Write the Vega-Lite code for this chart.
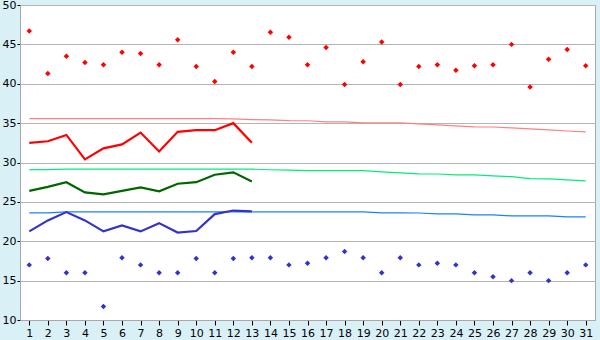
{
  "$schema": "https://vega.github.io/schema/vega-lite/v6.json",
  "width": 575,
  "height": 315,
  "autosize": "none",
  "padding": {"left": 20, "top": 5, "right": 5, "bottom": 20},
  "background": "#d9f0f7",
  "config": {
    "view": {"fill": "white", "stroke": "#a8a8a8", "strokeWidth": 1},
    "axis": {"labelFont": "DejaVu Sans", "labelColor": "black", "domainColor": "#a8a8a8", "tickColor": "black", "gridColor": "#b4b4b4"}
  },
  "datasets": {
    "pts": [
      {"day": 1, "series": "max", "value": 46.7},
      {"day": 2, "series": "max", "value": 41.3},
      {"day": 3, "series": "max", "value": 43.5},
      {"day": 4, "series": "max", "value": 42.7},
      {"day": 5, "series": "max", "value": 42.4},
      {"day": 6, "series": "max", "value": 44.0},
      {"day": 7, "series": "max", "value": 43.85},
      {"day": 8, "series": "max", "value": 42.4},
      {"day": 9, "series": "max", "value": 45.6},
      {"day": 10, "series": "max", "value": 42.2},
      {"day": 11, "series": "max", "value": 40.3},
      {"day": 12, "series": "max", "value": 44.0},
      {"day": 13, "series": "max", "value": 42.2},
      {"day": 14, "series": "max", "value": 46.55},
      {"day": 15, "series": "max", "value": 45.9},
      {"day": 16, "series": "max", "value": 42.4},
      {"day": 17, "series": "max", "value": 44.6},
      {"day": 18, "series": "max", "value": 39.9},
      {"day": 19, "series": "max", "value": 42.8},
      {"day": 20, "series": "max", "value": 45.3},
      {"day": 21, "series": "max", "value": 39.9},
      {"day": 22, "series": "max", "value": 42.2},
      {"day": 23, "series": "max", "value": 42.4},
      {"day": 24, "series": "max", "value": 41.7},
      {"day": 25, "series": "max", "value": 42.3},
      {"day": 26, "series": "max", "value": 42.4},
      {"day": 27, "series": "max", "value": 45.0},
      {"day": 28, "series": "max", "value": 39.6},
      {"day": 29, "series": "max", "value": 43.1},
      {"day": 30, "series": "max", "value": 44.35},
      {"day": 31, "series": "max", "value": 42.3},
      {"day": 1, "series": "min", "value": 17.0},
      {"day": 2, "series": "min", "value": 17.8},
      {"day": 3, "series": "min", "value": 16.0},
      {"day": 4, "series": "min", "value": 16.0},
      {"day": 5, "series": "min", "value": 11.7},
      {"day": 6, "series": "min", "value": 17.9},
      {"day": 7, "series": "min", "value": 17.0},
      {"day": 8, "series": "min", "value": 16.0},
      {"day": 9, "series": "min", "value": 16.0},
      {"day": 10, "series": "min", "value": 17.8},
      {"day": 11, "series": "min", "value": 16.0},
      {"day": 12, "series": "min", "value": 17.8},
      {"day": 13, "series": "min", "value": 17.9},
      {"day": 14, "series": "min", "value": 17.9},
      {"day": 15, "series": "min", "value": 17.0},
      {"day": 16, "series": "min", "value": 17.2},
      {"day": 17, "series": "min", "value": 17.9},
      {"day": 18, "series": "min", "value": 18.7},
      {"day": 19, "series": "min", "value": 17.9},
      {"day": 20, "series": "min", "value": 16.0},
      {"day": 21, "series": "min", "value": 17.9},
      {"day": 22, "series": "min", "value": 17.0},
      {"day": 23, "series": "min", "value": 17.2},
      {"day": 24, "series": "min", "value": 17.0},
      {"day": 25, "series": "min", "value": 16.0},
      {"day": 26, "series": "min", "value": 15.5},
      {"day": 27, "series": "min", "value": 15.0},
      {"day": 28, "series": "min", "value": 16.0},
      {"day": 29, "series": "min", "value": 15.0},
      {"day": 30, "series": "min", "value": 16.0},
      {"day": 31, "series": "min", "value": 17.0}
    ],
    "thick": [
      {"day": 1, "series": "maxLine", "value": 32.5},
      {"day": 2, "series": "maxLine", "value": 32.7},
      {"day": 3, "series": "maxLine", "value": 33.5},
      {"day": 4, "series": "maxLine", "value": 30.4},
      {"day": 5, "series": "maxLine", "value": 31.8},
      {"day": 6, "series": "maxLine", "value": 32.3},
      {"day": 7, "series": "maxLine", "value": 33.8},
      {"day": 8, "series": "maxLine", "value": 31.4},
      {"day": 9, "series": "maxLine", "value": 33.9},
      {"day": 10, "series": "maxLine", "value": 34.1},
      {"day": 11, "series": "maxLine", "value": 34.1},
      {"day": 12, "series": "maxLine", "value": 35.0},
      {"day": 13, "series": "maxLine", "value": 32.5},
      {"day": 1, "series": "avgLine", "value": 26.4},
      {"day": 2, "series": "avgLine", "value": 26.9},
      {"day": 3, "series": "avgLine", "value": 27.5},
      {"day": 4, "series": "avgLine", "value": 26.2},
      {"day": 5, "series": "avgLine", "value": 25.95},
      {"day": 6, "series": "avgLine", "value": 26.4},
      {"day": 7, "series": "avgLine", "value": 26.85},
      {"day": 8, "series": "avgLine", "value": 26.35},
      {"day": 9, "series": "avgLine", "value": 27.3},
      {"day": 10, "series": "avgLine", "value": 27.5},
      {"day": 11, "series": "avgLine", "value": 28.45},
      {"day": 12, "series": "avgLine", "value": 28.75},
      {"day": 13, "series": "avgLine", "value": 27.6},
      {"day": 1, "series": "minLine", "value": 21.25},
      {"day": 2, "series": "minLine", "value": 22.65},
      {"day": 3, "series": "minLine", "value": 23.7},
      {"day": 4, "series": "minLine", "value": 22.65},
      {"day": 5, "series": "minLine", "value": 21.25},
      {"day": 6, "series": "minLine", "value": 22.0},
      {"day": 7, "series": "minLine", "value": 21.25},
      {"day": 8, "series": "minLine", "value": 22.3},
      {"day": 9, "series": "minLine", "value": 21.1},
      {"day": 10, "series": "minLine", "value": 21.3},
      {"day": 11, "series": "minLine", "value": 23.45},
      {"day": 12, "series": "minLine", "value": 23.9},
      {"day": 13, "series": "minLine", "value": 23.8}
    ],
    "norm": [
      {"day": 1, "series": "maxNorm", "value": 35.57},
      {"day": 2, "series": "maxNorm", "value": 35.57},
      {"day": 3, "series": "maxNorm", "value": 35.57},
      {"day": 4, "series": "maxNorm", "value": 35.57},
      {"day": 5, "series": "maxNorm", "value": 35.57},
      {"day": 6, "series": "maxNorm", "value": 35.57},
      {"day": 7, "series": "maxNorm", "value": 35.57},
      {"day": 8, "series": "maxNorm", "value": 35.57},
      {"day": 9, "series": "maxNorm", "value": 35.57},
      {"day": 10, "series": "maxNorm", "value": 35.57},
      {"day": 11, "series": "maxNorm", "value": 35.57},
      {"day": 12, "series": "maxNorm", "value": 35.55},
      {"day": 13, "series": "maxNorm", "value": 35.45},
      {"day": 14, "series": "maxNorm", "value": 35.42},
      {"day": 15, "series": "maxNorm", "value": 35.32},
      {"day": 16, "series": "maxNorm", "value": 35.3},
      {"day": 17, "series": "maxNorm", "value": 35.17},
      {"day": 18, "series": "maxNorm", "value": 35.15},
      {"day": 19, "series": "maxNorm", "value": 35.04},
      {"day": 20, "series": "maxNorm", "value": 35.03},
      {"day": 21, "series": "maxNorm", "value": 35.02},
      {"day": 22, "series": "maxNorm", "value": 34.9},
      {"day": 23, "series": "maxNorm", "value": 34.77},
      {"day": 24, "series": "maxNorm", "value": 34.64},
      {"day": 25, "series": "maxNorm", "value": 34.53},
      {"day": 26, "series": "maxNorm", "value": 34.51},
      {"day": 27, "series": "maxNorm", "value": 34.39},
      {"day": 28, "series": "maxNorm", "value": 34.26},
      {"day": 29, "series": "maxNorm", "value": 34.14},
      {"day": 30, "series": "maxNorm", "value": 34.0},
      {"day": 31, "series": "maxNorm", "value": 33.88},
      {"day": 1, "series": "avgNorm", "value": 29.1},
      {"day": 2, "series": "avgNorm", "value": 29.1},
      {"day": 3, "series": "avgNorm", "value": 29.15},
      {"day": 4, "series": "avgNorm", "value": 29.15},
      {"day": 5, "series": "avgNorm", "value": 29.15},
      {"day": 6, "series": "avgNorm", "value": 29.15},
      {"day": 7, "series": "avgNorm", "value": 29.15},
      {"day": 8, "series": "avgNorm", "value": 29.15},
      {"day": 9, "series": "avgNorm", "value": 29.15},
      {"day": 10, "series": "avgNorm", "value": 29.15},
      {"day": 11, "series": "avgNorm", "value": 29.15},
      {"day": 12, "series": "avgNorm", "value": 29.15},
      {"day": 13, "series": "avgNorm", "value": 29.15},
      {"day": 14, "series": "avgNorm", "value": 29.08},
      {"day": 15, "series": "avgNorm", "value": 29.03},
      {"day": 16, "series": "avgNorm", "value": 28.97},
      {"day": 17, "series": "avgNorm", "value": 28.97},
      {"day": 18, "series": "avgNorm", "value": 28.97},
      {"day": 19, "series": "avgNorm", "value": 28.96},
      {"day": 20, "series": "avgNorm", "value": 28.8},
      {"day": 21, "series": "avgNorm", "value": 28.68},
      {"day": 22, "series": "avgNorm", "value": 28.56},
      {"day": 23, "series": "avgNorm", "value": 28.54},
      {"day": 24, "series": "avgNorm", "value": 28.44},
      {"day": 25, "series": "avgNorm", "value": 28.42},
      {"day": 26, "series": "avgNorm", "value": 28.3},
      {"day": 27, "series": "avgNorm", "value": 28.2},
      {"day": 28, "series": "avgNorm", "value": 27.95},
      {"day": 29, "series": "avgNorm", "value": 27.92},
      {"day": 30, "series": "avgNorm", "value": 27.8},
      {"day": 31, "series": "avgNorm", "value": 27.67},
      {"day": 1, "series": "minNorm", "value": 23.6},
      {"day": 2, "series": "minNorm", "value": 23.6},
      {"day": 3, "series": "minNorm", "value": 23.73},
      {"day": 4, "series": "minNorm", "value": 23.73},
      {"day": 5, "series": "minNorm", "value": 23.73},
      {"day": 6, "series": "minNorm", "value": 23.73},
      {"day": 7, "series": "minNorm", "value": 23.73},
      {"day": 8, "series": "minNorm", "value": 23.73},
      {"day": 9, "series": "minNorm", "value": 23.73},
      {"day": 10, "series": "minNorm", "value": 23.73},
      {"day": 11, "series": "minNorm", "value": 23.73},
      {"day": 12, "series": "minNorm", "value": 23.73},
      {"day": 13, "series": "minNorm", "value": 23.73},
      {"day": 14, "series": "minNorm", "value": 23.73},
      {"day": 15, "series": "minNorm", "value": 23.73},
      {"day": 16, "series": "minNorm", "value": 23.73},
      {"day": 17, "series": "minNorm", "value": 23.73},
      {"day": 18, "series": "minNorm", "value": 23.73},
      {"day": 19, "series": "minNorm", "value": 23.72},
      {"day": 20, "series": "minNorm", "value": 23.6},
      {"day": 21, "series": "minNorm", "value": 23.6},
      {"day": 22, "series": "minNorm", "value": 23.59},
      {"day": 23, "series": "minNorm", "value": 23.48},
      {"day": 24, "series": "minNorm", "value": 23.47},
      {"day": 25, "series": "minNorm", "value": 23.35},
      {"day": 26, "series": "minNorm", "value": 23.34},
      {"day": 27, "series": "minNorm", "value": 23.22},
      {"day": 28, "series": "minNorm", "value": 23.22},
      {"day": 29, "series": "minNorm", "value": 23.21},
      {"day": 30, "series": "minNorm", "value": 23.1},
      {"day": 31, "series": "minNorm", "value": 23.1}
    ]
  },
  "encoding": {
    "x": {
      "field": "day", "type": "quantitative",
      "scale": {"domain": [0.5, 31.5], "nice": false, "zero": false},
      "axis": {"title": null, "values": [1,2,3,4,5,6,7,8,9,10,11,12,13,14,15,16,17,18,19,20,21,22,23,24,25,26,27,28,29,30,31], "grid": false, "tickSize": 5, "labelPadding": 2, "labelFontSize": 11, "labelFlush": false, "labelOverlap": false, "domain": true}
    },
    "y": {
      "field": "value", "type": "quantitative",
      "scale": {"domain": [10, 50], "nice": false, "zero": false},
      "axis": {"title": null, "values": [10,15,20,25,30,35,40,45,50], "grid": true, "tickSize": 3, "labelPadding": 1, "labelFontSize": 11, "labelFlush": false}
    }
  },
  "layer": [
    {
      "data": {"name": "norm"},
      "mark": {"type": "line", "strokeWidth": 1.2},
      "encoding": {
        "color": {"field": "series", "type": "nominal", "legend": null,
          "scale": {"domain": ["maxNorm", "avgNorm", "minNorm"], "range": ["#ff8080", "#00ee77", "#1a80ff"]}}
      }
    },
    {
      "data": {"name": "thick"},
      "mark": {"type": "line", "strokeWidth": 2.2},
      "encoding": {
        "color": {"field": "series", "type": "nominal", "legend": null,
          "scale": {"domain": ["maxLine", "avgLine", "minLine"], "range": ["#ff0000", "#006600", "#3333cc"]}}
      }
    },
    {
      "data": {"name": "pts"},
      "mark": {"type": "point", "shape": "diamond", "filled": true, "size": 30, "opacity": 1},
      "encoding": {
        "color": {"field": "series", "type": "nominal", "legend": null,
          "scale": {"domain": ["max", "min"], "range": ["#ff0000", "#3333cc"]}}
      }
    }
  ],
  "resolve": {"scale": {"color": "independent"}}
}
